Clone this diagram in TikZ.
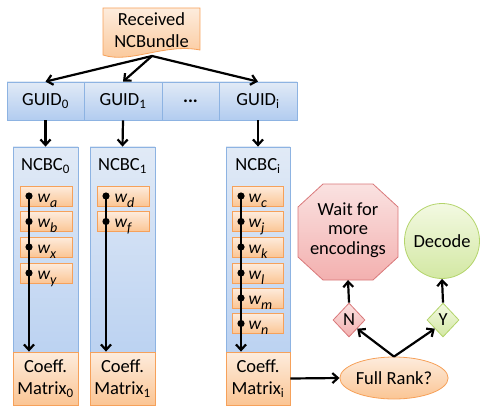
\documentclass[tikz,border=0pt]{standalone}
\usepackage{fontspec}
\setmainfont{Carlito}
\usetikzlibrary{shapes.geometric,arrows.meta}
\definecolor{bluetop}{HTML}{E1EAF6}
\definecolor{bluebot}{HTML}{B2CCF0}
\definecolor{bluebd}{HTML}{8DB3E2}
\definecolor{ortop}{HTML}{FDECDD}
\definecolor{orbot}{HTML}{FBC594}
\definecolor{orbd}{HTML}{F6A15A}
\definecolor{pktop}{HTML}{FAE2E1}
\definecolor{pkbot}{HTML}{F3B0AF}
\definecolor{pkbd}{HTML}{D9787A}
\definecolor{grtop}{HTML}{F3F9E2}
\definecolor{grbot}{HTML}{D3E8A3}
\definecolor{grbd}{HTML}{B3D46A}
\newcommand{\wsub}[1]{w\raisebox{-5pt}{\fontsize{14}{15}\selectfont #1}}
\begin{document}
\begin{tikzpicture}[x=1pt,y=-1pt,
  txt/.style={font=\fontsize{18.5}{22}\selectfont, inner sep=0pt},
  bluebox/.style={draw=bluebd, line width=0.8pt, top color=bluetop, bottom color=bluebot, inner sep=0pt},
  orbox/.style={draw=orbd, line width=0.8pt, top color=ortop, bottom color=orbot, inner sep=0pt},
  wbox/.style={orbox, minimum width=52pt, minimum height=20pt},
  wlab/.style={font=\fontsize{17.5}{20}\selectfont\itshape, inner sep=0pt, anchor=base west},
  col/.style={bluebox, minimum width=65pt, minimum height=258pt},
  mat/.style={orbox, minimum width=65pt, minimum height=53pt, align=center, txt},
  guid/.style={bluebox, minimum height=38pt, txt},
  arr/.style={line width=2.2pt, -{Straight Barb[length=5.5pt,width=10pt,line width=2.2pt]}},
]
\useasboundingbox (0,0) rectangle (481,406);

% Received NCBundle
\path[draw=orbd, line width=0.8pt, top color=ortop, bottom color=orbot]
  (103,8) -- (200,8) -- (200,50) .. controls (165,43) and (130,64) .. (103,55) -- cycle;
\node[txt, align=center] (rcv) at (151.5,30) {Received\\NCBundle};
\coordinate (rcvb) at (152,56);

% GUID row
\node[guid, minimum width=77pt] (g0) at (45.5,101) {GUID\textsubscript{0}};
\node[guid, minimum width=78pt] (g1) at (123,101) {GUID\textsubscript{1}};
\node[guid, minimum width=57pt] (gd) at (190.5,101) {\textbf{...}};
\node[guid, minimum width=78pt] (gi) at (258,101) {GUID\textsubscript{i}};

\draw[arr] (rcvb) -- (g0.north);
\draw[arr] (rcvb) -- (g1.north);
\draw[arr] (rcvb) -- (gi.north);

% columns
\node[col] (c0) at (45.5,276) {};
\node[col] (c1) at (122.5,276) {};
\node[col, minimum width=64pt] (ci) at (258,276) {};
\draw[arr] (g0.south) -- (c0.north);
\draw[arr] (g1.south) -- (c1.north);
\draw[arr] (gi.south) -- (ci.north);
\node[txt] (n0) at (45.5,166) {NCBC\textsubscript{0}};
\node[txt] (n1) at (122.5,166) {NCBC\textsubscript{1}};
\node[txt] (ni) at (258,166) {NCBC\textsubscript{i}};

% coefficient matrices
\node[mat] (m0) at (45.5,378.5) {Coeff.\\Matrix\textsubscript{0}};
\node[mat] (m1) at (122.5,378.5) {Coeff.\\Matrix\textsubscript{1}};
\node[mat, minimum width=64pt] (mi) at (258,378.5) {Coeff.\\Matrix\textsubscript{i}};

% w boxes column 0
\foreach \nm/\yy in {a/196, b/221.5, x/247, y/273}{
  \node[wbox] (w0\nm) at (46,\yy) {};
  \node[wlab] at ([xshift=-8.5pt,yshift=-6pt]w0\nm.center) {\wsub{\nm}};
}
% column 1
\foreach \nm/\yy in {d/196, f/221.5}{
  \node[wbox] (w1\nm) at (123,\yy) {};
  \node[wlab] at ([xshift=-8.5pt,yshift=-6pt]w1\nm.center) {\wsub{\nm}};
}
% column i
\foreach \nm/\yy in {c/196, j/221.5, k/247, l/273, m/298, n/323.5}{
  \node[wbox, minimum width=51pt] (wi\nm) at (257.5,\yy) {};
  \node[wlab] at ([xshift=-9pt,yshift=-6pt]wi\nm.center) {\wsub{\nm}};
}

% chains
\coordinate (d0) at ([xshift=-17pt]w0a.center);
\coordinate (d1) at ([xshift=-17pt]w1d.center);
\coordinate (di) at ([xshift=-16.5pt]wic.center);
\draw[arr] (d0) -- (d0 |- m0.north);
\draw[arr] (d1) -- (d1 |- m1.north);
\draw[arr] (di) -- (di |- mi.north);
\foreach \n in {w0a,w0b,w0x,w0y}{\fill ([xshift=-17pt]\n.center) circle (3.6pt);}
\foreach \n in {w1d,w1f}{\fill ([xshift=-17pt]\n.center) circle (3.6pt);}
\foreach \n in {wic,wij,wik,wil,wim,win}{\fill ([xshift=-16.5pt]\n.center) circle (3.6pt);}

% decision part
\node[ellipse, draw=orbd, line width=0.8pt, top color=ortop, bottom color=orbot,
      minimum width=92pt, minimum height=42pt, inner sep=0pt, txt] (fr) at (394,378) {Full Rank?};
\draw[arr] (mi.east) -- (fr.west);
\node[diamond, draw=pkbd, line width=0.8pt, top color=pktop, bottom color=pkbot,
      minimum width=32pt, minimum height=34pt, inner sep=0pt, txt] (nd) at (349,320) {N};
\node[diamond, draw=grbd, line width=0.8pt, top color=grtop, bottom color=grbot,
      minimum width=32pt, minimum height=34pt, inner sep=0pt, txt] (yd) at (443,320) {Y};
\draw[arr] (fr.north) -- (nd.south east);
\draw[arr] (fr.north) -- (yd.south west);
\path[draw=pkbd, line width=0.8pt, top color=pktop, bottom color=pkbot]
  (323,184) -- (373,184) -- (398,207) -- (398,257) -- (373,280) -- (323,280) -- (298,257) -- (298,207) -- cycle;
\node[txt, align=center, font=\fontsize{18.5}{19.5}\selectfont] (wait) at (348,230) {Wait for\\more\\encodings};
\coordinate (waitb) at (348,280);
\node[circle, draw=grbd, line width=0.8pt, top color=grtop, bottom color=grbot,
      minimum size=75pt, inner sep=0pt, txt] (dec) at (442,241) {Decode};
\draw[arr] (nd.north) -- (waitb);
\draw[arr] (yd.north) -- (dec.south);
\end{tikzpicture}
\end{document}
